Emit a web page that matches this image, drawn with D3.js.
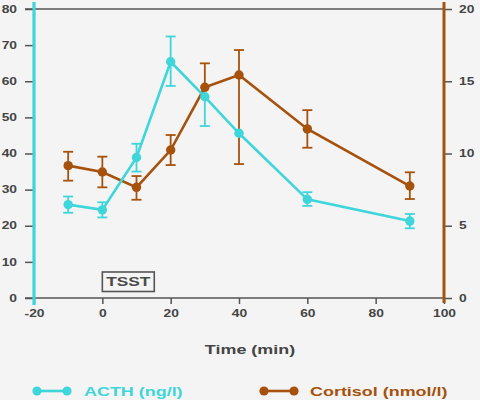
<!DOCTYPE html>
<html><head><meta charset="utf-8">
<script src="https://cdn.jsdelivr.net/npm/d3@7"></script>
<style>html,body{margin:0;padding:0;background:#f4f4f4;}svg{display:block;font-family:"Liberation Sans",Arial,sans-serif;}</style>
</head><body>
<svg id="c" width="480" height="400"></svg>
<script>
const times = [-10, 0, 10, 20, 30, 40, 60, 90];
const acth = [25.85, 24.4, 38.9, 65.4, 55.7, 45.6, 27.3, 21.3];
const acthLo = [23.6, 22.3, 35.0, 58.7, 47.6, 45.6, 25.5, 19.3];
const acthHi = [28.1, 26.5, 42.7, 72.4, 55.7, 45.6, 29.3, 23.25];
const cort = [9.16, 8.72, 7.66, 10.24, 14.58, 15.43, 11.7, 7.75];
const cortLo = [8.12, 7.66, 6.8, 9.2, 14.58, 9.27, 10.4, 6.85];
const cortHi = [10.12, 9.78, 8.44, 11.28, 16.24, 17.16, 13.0, 8.7];
const xTicks = [-20, 0, 20, 40, 60, 80, 100];
const yLeftTicks = [0, 10, 20, 30, 40, 50, 60, 70, 80];
const yRightTicks = [0, 5, 10, 15, 20];
const seriesNames = ["ACTH (ng/l)", "Cortisol (nmol/l)"];
const xTitle = "Time (min)";
const tsst = {label: "TSST", x0: 0, x1: 15.2, y0: 1.8, y1: 7.2};

const CYAN = "#3ed6da", BROWN = "#a6520d", GRAY = "#555", TXT = "#454545";
const SX = 1.38;
const svg = d3.select("#c");
svg.append("rect").attr("width",480).attr("height",400).attr("fill","#f4f4f4");

const x = d3.scaleLinear([-20,100],[34,444]);
const yL = d3.scaleLinear([0,80],[298,9]);
const yR = d3.scaleLinear([0,20],[298,9]);
const fmt = d => String(d);

function styleText(sel, tx, ty){
  sel.attr("x",0).attr("y",0).attr("transform",`translate(${tx},${ty}) scale(${SX},1)`)
    .attr("fill",TXT).attr("font-size",10).attr("font-weight","bold").attr("font-family","Liberation Sans, Arial");
}

// left axis
const gL = svg.append("g").attr("transform","translate(33,0)")
  .call(d3.axisLeft(yL).tickValues(yLeftTicks).tickSize(8).tickFormat(fmt));
gL.select(".domain").remove();
gL.selectAll("line").attr("stroke",GRAY).attr("stroke-width",1.5);
styleText(gL.selectAll("text"), -16, 0);

// right axis
const gR = svg.append("g").attr("transform","translate(444,0)")
  .call(d3.axisRight(yR).tickValues(yRightTicks).tickSize(8).tickFormat(fmt));
gR.select(".domain").remove();
gR.selectAll("line").attr("stroke",GRAY).attr("stroke-width",1.5);
styleText(gR.selectAll("text"), 15, 0);

// bottom axis
const gB = svg.append("g").attr("transform","translate(0,298)")
  .call(d3.axisBottom(x).tickValues(xTicks).tickSize(6).tickFormat(fmt));
gB.select(".domain").remove();
gB.selectAll("line").attr("stroke",GRAY).attr("stroke-width",1.5);
styleText(gB.selectAll("text"), 0, 19);
gB.selectAll("text").attr("dy",0);

// frame lines
svg.append("line").attr("x1",25).attr("x2",x(100)).attr("y1",yL(0)).attr("y2",yL(0)).attr("stroke",GRAY).attr("stroke-width",1.6);
svg.append("line").attr("x1",25).attr("x2",x(100)).attr("y1",yL(80)).attr("y2",yL(80)).attr("stroke",GRAY).attr("stroke-width",1.6);
svg.append("line").attr("x1",x(-20)).attr("x2",x(-20)).attr("y1",2).attr("y2",305).attr("stroke",CYAN).attr("stroke-width",3.2);
svg.append("line").attr("x1",x(100)).attr("x2",x(100)).attr("y1",2).attr("y2",303).attr("stroke",BROWN).attr("stroke-width",3);

// TSST box
svg.append("rect").attr("x",x(tsst.x0)).attr("y",yL(tsst.y1)).attr("width",x(tsst.x1)-x(tsst.x0)).attr("height",yL(tsst.y0)-yL(tsst.y1))
  .attr("fill","none").attr("stroke","#555").attr("stroke-width",1.6);
svg.append("text").attr("transform",`translate(${(x(tsst.x0)+x(tsst.x1))/2},${yL((tsst.y0+tsst.y1)/2)+4.5}) scale(${SX},1)`)
  .attr("text-anchor","middle").attr("font-size",12.5).attr("font-weight","bold").attr("fill","#4a4a4a").text(tsst.label);

function pointsOf(vals, lo, hi){ return times.map((t,i)=>({t, v:vals[i], lo:lo[i], hi:hi[i]})); }
function drawLineBars(pts, ys, color){
  const g = svg.append("g");
  g.append("path").datum(pts).attr("fill","none").attr("stroke",color).attr("stroke-width",2.6)
    .attr("d", d3.line().x(d=>x(d.t)).y(d=>ys(d.v)));
  const eb = g.selectAll(".eb").data(pts.filter(d=>d.hi>d.lo)).join("g");
  eb.append("line").attr("x1",d=>x(d.t)).attr("x2",d=>x(d.t)).attr("y1",d=>ys(d.lo)).attr("y2",d=>ys(d.hi)).attr("stroke",color).attr("stroke-width",1.8);
  eb.filter(d=>d.lo<d.v).append("line").attr("x1",d=>x(d.t)-5).attr("x2",d=>x(d.t)+5).attr("y1",d=>ys(d.lo)).attr("y2",d=>ys(d.lo)).attr("stroke",color).attr("stroke-width",1.8);
  eb.filter(d=>d.hi>d.v).append("line").attr("x1",d=>x(d.t)-5).attr("x2",d=>x(d.t)+5).attr("y1",d=>ys(d.hi)).attr("y2",d=>ys(d.hi)).attr("stroke",color).attr("stroke-width",1.8);
}
function drawPoints(pts, ys, color){
  svg.append("g").selectAll("circle").data(pts).join("circle").attr("cx",d=>x(d.t)).attr("cy",d=>ys(d.v)).attr("r",4.7).attr("fill",color);
}
const cPts = pointsOf(cort, cortLo, cortHi), aPts = pointsOf(acth, acthLo, acthHi);
drawLineBars(cPts, yR, BROWN);
drawLineBars(aPts, yL, CYAN);
drawPoints(aPts, yL, CYAN);
drawPoints(cPts, yR, BROWN);

// x title
svg.append("text").attr("transform","translate(250,354) scale("+SX+",1)").attr("text-anchor","middle")
  .attr("font-size",13).attr("font-weight","bold").attr("fill",TXT).text(xTitle);

// legend
const legend = [{name:seriesNames[0], color:CYAN, x0:37, tx:84},{name:seriesNames[1], color:BROWN, x0:264, tx:310}];
legend.forEach(l=>{
  const g = svg.append("g");
  g.append("line").attr("x1",l.x0).attr("x2",l.x0+30).attr("y1",391).attr("y2",391).attr("stroke",l.color).attr("stroke-width",2.6);
  g.append("circle").attr("cx",l.x0).attr("cy",391).attr("r",4.6).attr("fill",l.color);
  g.append("circle").attr("cx",l.x0+30).attr("cy",391).attr("r",4.6).attr("fill",l.color);
  g.append("text").attr("transform",`translate(${l.tx},396) scale(${SX},1)`).attr("font-size",13).attr("font-weight","bold").attr("fill",l.color).text(l.name);
});
</script>
</body></html>
